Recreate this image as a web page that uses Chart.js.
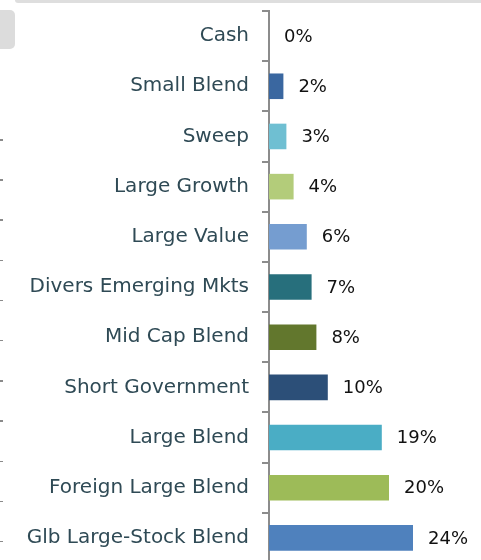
<!DOCTYPE html>
<html>
<head>
<meta charset="utf-8">
<script src="https://cdn.jsdelivr.net/npm/chart.js@4"></script>
<style>
  html, body { margin: 0; padding: 0; background: #fff; overflow: hidden; }
  #wrap { position: relative; width: 481px; height: 560px; overflow: hidden; }
  #topbar { position: absolute; left: 15px; top: 0; right: 0; height: 3px; background: #dedede; border-bottom-left-radius: 3px; z-index: 2; }
  #tab { position: absolute; left: 0; top: 10px; width: 15px; height: 39px; background: #dcdcdc; border-radius: 0 5px 5px 0; z-index: 2; }
  #edge { position: absolute; left: 0; top: 139px; width: 3px; height: 410px; z-index: 2;
    background: repeating-linear-gradient(to bottom, #8a8a8a 0, #8a8a8a 1.5px, transparent 1.5px, transparent 40.2px); }
  #box { position: absolute; left: 0; top: -14px; width: 481px; height: 602px; }
</style>
</head>
<body>
<div id="wrap">
  <div id="box"><canvas id="chart"></canvas></div>
  <div id="topbar"></div>
  <div id="tab"></div>
  <div id="edge"></div>
</div>
<script>
const categories = ['Cash', 'Small Blend', 'Sweep', 'Large Growth', 'Large Value', 'Divers Emerging Mkts',
  'Mid Cap Blend', 'Short Government', 'Large Blend', 'Foreign Large Blend', 'Glb Large-Stock Blend'];
const weights = [0, 2.4, 2.9, 4.1, 6.3, 7.1, 7.9, 9.8, 18.8, 20.0, 24.0];
const valueLabels = ['0%', '2%', '3%', '4%', '6%', '7%', '8%', '10%', '19%', '20%', '24%'];
const barColors = ['#3a67a0', '#3a67a0', '#6fbfd2', '#b3cc7a', '#759dd0', '#276f7c',
  '#62772d', '#2c4f78', '#4aadc5', '#9dbb58', '#4f81bd'];

const valueLabelPlugin = {
  id: 'valueLabels',
  afterDatasetsDraw(chart) {
    const ctx = chart.ctx;
    const meta = chart.getDatasetMeta(0);
    ctx.save();
    ctx.font = '18px "DejaVu Sans"';
    ctx.fillStyle = '#111';
    ctx.textAlign = 'left';
    ctx.textBaseline = 'middle';
    meta.data.forEach((bar, i) => {
      ctx.fillText(valueLabels[i], bar.x + 15, bar.y + 1);
    });
    ctx.restore();
  }
};

new Chart(document.getElementById('chart'), {
  type: 'bar',
  data: {
    labels: categories,
    datasets: [{
      data: weights,
      backgroundColor: barColors,
      borderWidth: 0,
      barPercentage: 0.51,
      categoryPercentage: 1
    }]
  },
  options: {
    indexAxis: 'y',
    responsive: true,
    maintainAspectRatio: false,
    animation: false,
    layout: { padding: { top: 0, bottom: 0, left: 0, right: 32 } },
    plugins: {
      legend: { display: false },
      tooltip: { enabled: false }
    },
    scales: {
      x: {
        display: false,
        min: 0,
        max: 30
      },
      y: {
        afterFit(scale) { scale.width = 269; },
        border: { display: true, color: '#8c8c8c', width: 2 },
        grid: {
          drawOnChartArea: false,
          drawTicks: true,
          tickLength: 7,
          color: '#8c8c8c',
          lineWidth: 2,
          offset: true
        },
        ticks: {
          padding: 13,
          color: '#2f4a55',
          font: { family: 'DejaVu Sans', size: 20 }
        }
      }
    }
  },
  plugins: [valueLabelPlugin]
});
</script>
</body>
</html>
